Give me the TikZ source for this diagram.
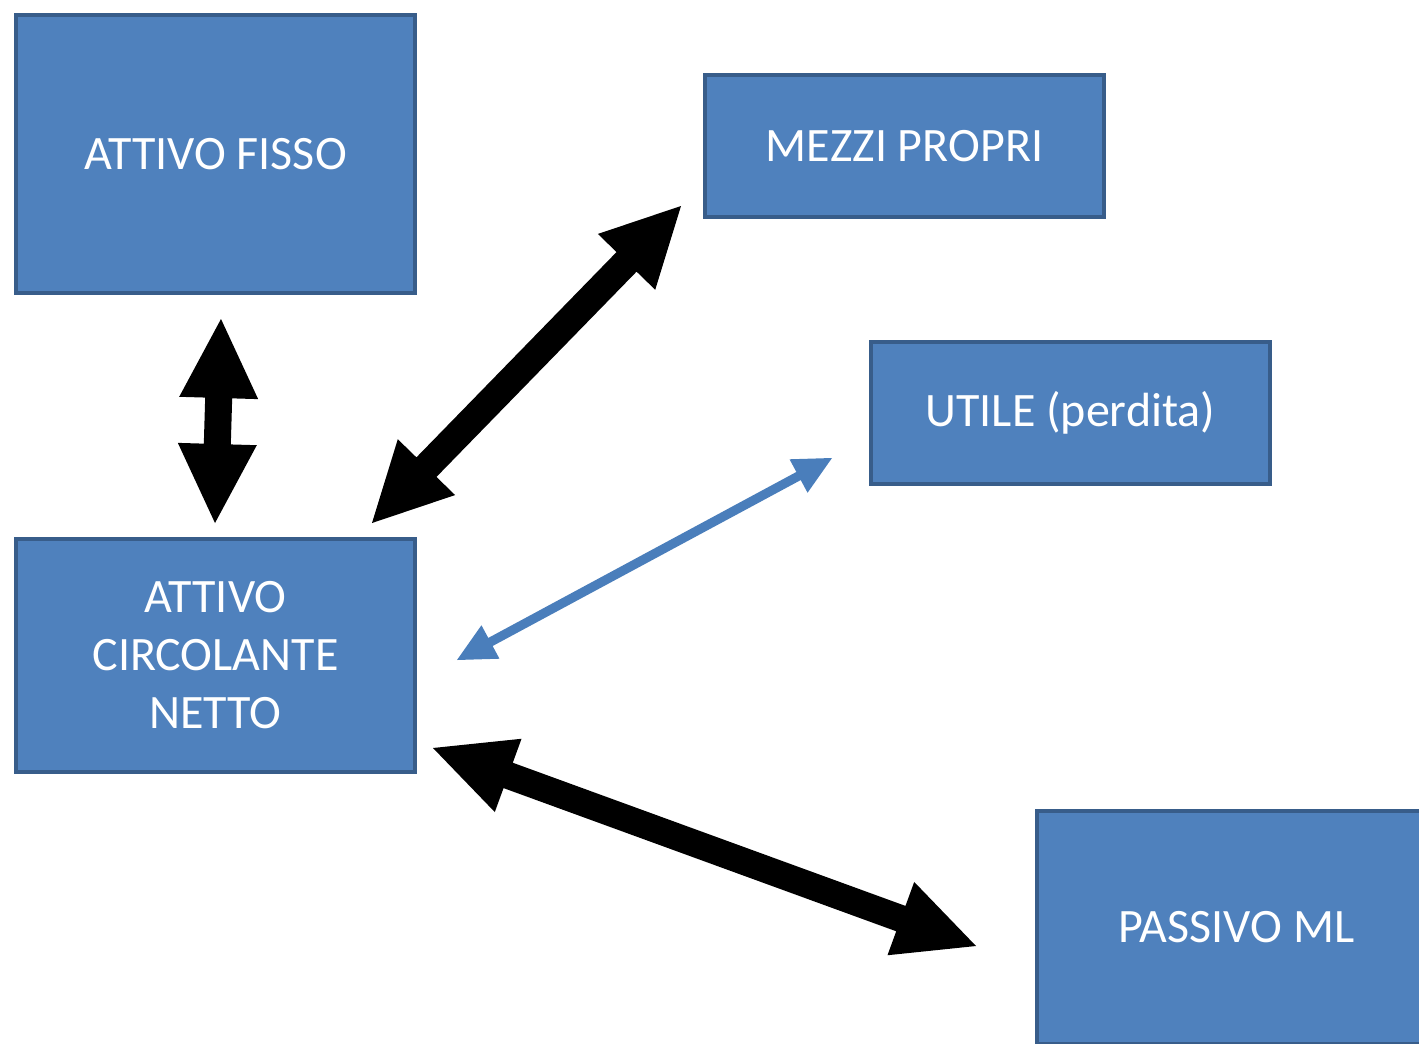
\documentclass[tikz,border=0pt]{standalone}
\usepackage{fontspec}
\setmainfont{Carlito}
\usetikzlibrary{calc}
\definecolor{boxfill}{HTML}{4F81BD}
\definecolor{boxline}{HTML}{385D8A}
\definecolor{linkblue}{HTML}{4A7EBB}
\tikzset{
  block/.style={draw=boxline, fill=boxfill, line width=2pt, text=white,
    font=\fontsize{24}{29}\selectfont, align=center, inner sep=0pt,
    minimum width=199.5pt},
  heavy/.style={fill=black},
  light/.style={fill=linkblue},
}
% Double-headed block arrow between two named points:
% #1 style, #2 from, #3 to, #4 head length, #5 head half width, #6 shaft half width
\newcommand\dblarrow[6]{%
  \path ($(#2)!#4!(#3)$) coordinate (ha) ($(#3)!#4!(#2)$) coordinate (hb);
  \fill[#1] (#2) -- ($(ha)!#5!90:(#3)$) -- ($(ha)!#6!90:(#3)$)
    -- ($(hb)!#6!-90:(#2)$) -- ($(hb)!#5!-90:(#2)$) -- (#3)
    -- ($(hb)!#5!90:(#2)$) -- ($(hb)!#6!90:(#2)$)
    -- ($(ha)!#6!-90:(#3)$) -- ($(ha)!#5!-90:(#3)$) -- cycle;
}
\begin{document}
\begin{tikzpicture}[x=0.5pt, y=-0.5pt]
  \useasboundingbox (0,0) rectangle (1419,1044);
  \clip (0,0) rectangle (1419,1044);

  % boxes
  \node[block, minimum height=139pt] (fisso) at (215.5,154) {ATTIVO FISSO};
  \node[block, minimum height=71pt] (mezzi) at (904.5,146) {MEZZI PROPRI};
  \node[block, minimum height=71pt] (utile) at (1070.5,413) {UTILE (perdita)};
  \node[block, minimum height=116.5pt] (acn) at (215.5,655.5) {ATTIVO\\CIRCOLANTE\\NETTO};
  \node[block, minimum height=116.5pt] (passivo) at (1236.5,927.5) {PASSIVO ML};

  % arrow end points
  \coordinate (vTop) at (221,319);
  \coordinate (vBot) at (215,523);
  \coordinate (dLow) at (372,523);
  \coordinate (dHigh) at (681,206);
  \coordinate (bLeft) at (457,660);
  \coordinate (bRight) at (832,458);
  \coordinate (pLeft) at (433,748);
  \coordinate (pRight) at (976,946);

  % connectors
  \dblarrow{heavy}{vTop}{vBot}{39.5pt}{19.75pt}{6.75pt}
  \dblarrow{heavy}{dLow}{dHigh}{39pt}{20pt}{7pt}
  \dblarrow{light}{bLeft}{bRight}{19pt}{9.5pt}{2.3pt}
  \dblarrow{heavy}{pLeft}{pRight}{40pt}{19.5pt}{6.75pt}
\end{tikzpicture}
\end{document}
